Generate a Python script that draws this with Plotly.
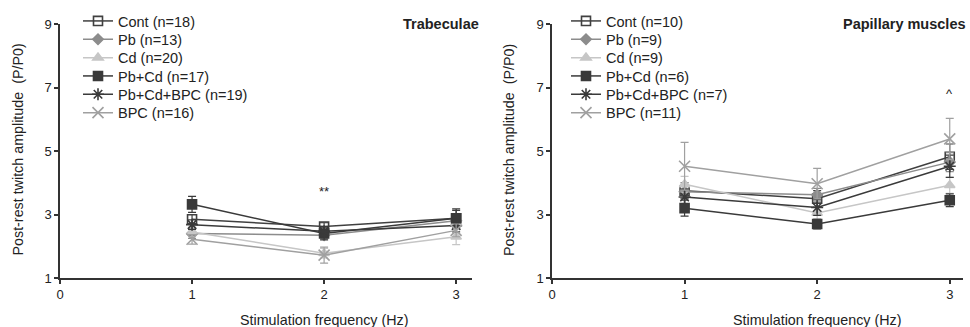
import plotly.graph_objects as go

freq = [1, 2, 3]
names_left = ["Cont (n=18)", "Pb (n=13)", "Cd (n=20)", "Pb+Cd (n=17)", "Pb+Cd+BPC (n=19)", "BPC (n=16)"]
names_right = ["Cont (n=10)", "Pb (n=9)", "Cd (n=9)", "Pb+Cd (n=6)", "Pb+Cd+BPC (n=7)", "BPC (n=11)"]

# Trabeculae
trab_vals = [
    [2.85, 2.62, 2.88],
    [2.40, 2.35, 2.80],
    [2.45, 1.78, 2.30],
    [3.32, 2.40, 2.88],
    [2.68, 2.47, 2.65],
    [2.22, 1.72, 2.50],
]
trab_err = [
    [0.15, 0.12, 0.25],
    [0.15, 0.12, 0.20],
    [0.15, 0.15, 0.25],
    [0.25, 0.20, 0.30],
    [0.15, 0.15, 0.20],
    [0.15, 0.25, 0.20],
]
# Papillary muscles
pap_vals = [
    [3.75, 3.50, 4.82],
    [3.72, 3.62, 4.65],
    [3.95, 3.05, 3.92],
    [3.20, 2.70, 3.45],
    [3.55, 3.22, 4.52],
    [4.52, 3.97, 5.38],
]
pap_err = [
    [0.25, 0.25, 0.40],
    [0.20, 0.20, 0.30],
    [0.25, 0.20, 0.25],
    [0.25, 0.15, 0.20],
    [0.25, 0.25, 0.35],
    [0.75, 0.48, 0.65],
]

colors = ["#404040", "#8c8c8c", "#c6c6c6", "#3a3a3a", "#3a3a3a", "#a0a0a0"]
symbols = ["square-open", "diamond", "triangle-up", "square", "asterisk-open", "x-thin-open"]
sizes = [9, 8, 9, 9, 10, 11]

FONT = "Liberation Sans, Arial, sans-serif"
W, H = 970, 327
ml, mr, mt, mb = 60, 7, 24, 49
pw = W - ml - mr
ph = H - mt - mb

# legend item centres (pixels from top)
leg_rows = [21, 39.3, 57.7, 76, 94.3, 112.7]


def py_to_paper(py):
    return 1 - (py - mt) / ph


def px_to_paper(px):
    return (px - ml) / pw


fig = go.Figure()
legends = {}
for panel, (vals, errs, names, xa, ya, lx) in enumerate([
    (trab_vals, trab_err, names_left, "x", "y", 78),
    (pap_vals, pap_err, names_right, "x2", "y2", 566),
]):
    for i in range(6):
        lid = "legend" if (panel == 0 and i == 0) else f"legend{panel * 6 + i + 1}"
        fig.add_trace(go.Scatter(
            x=freq, y=vals[i], name=names[i], mode="lines+markers",
            line=dict(color=colors[i], width=1.5),
            marker=dict(symbol=symbols[i], size=sizes[i], color=colors[i],
                        line=dict(color=colors[i], width=1.6)),
            error_y=dict(type="data", array=errs[i], color=colors[i], thickness=1.2, width=4),
            xaxis=xa, yaxis=ya, legend=lid,
        ))
        legends[lid] = dict(x=px_to_paper(lx), y=py_to_paper(leg_rows[i]), xanchor="left",
                            yanchor="middle", bgcolor="rgba(0,0,0,0)",
                            font=dict(family=FONT, size=14.5, color="#222222"),
                            itemwidth=30)

axis_common = dict(showgrid=False, zeroline=False, showline=True, linecolor="#333333", linewidth=1.5,
                   ticks="outside", ticklen=4, tickcolor="#333333", tickwidth=1.5,
                   tickfont=dict(family=FONT, size=13, color="#222222"))

ytitle = "Post-rest twitch amplitude  (P/P0)"
xtitle = "Stimulation frequency (Hz)"

fig.update_layout(
    width=W, height=H,
    margin=dict(l=ml, r=mr, t=mt, b=mb, autoexpand=False),
    plot_bgcolor="white", paper_bgcolor="white",
    font=dict(family=FONT, size=14, color="#222222"),
    xaxis=dict(domain=[0, 412 / pw], range=[0, 3.12], tickvals=[0, 1, 2, 3], **axis_common),
    yaxis=dict(range=[1, 9], tickvals=[1, 3, 5, 7, 9], anchor="x", **axis_common),
    xaxis2=dict(domain=[px_to_paper(552), 1.0], range=[0, 3.1], tickvals=[0, 1, 2, 3],
                anchor="y2", **axis_common),
    yaxis2=dict(range=[1, 9], tickvals=[1, 3, 5, 7, 9], anchor="x2", **axis_common),
    showlegend=True,
    annotations=[
        dict(text="<b>Trabeculae</b>", x=px_to_paper(481), y=py_to_paper(24), xref="paper", yref="paper",
             xanchor="right", yanchor="middle", showarrow=False, font=dict(size=14.5)),
        dict(text="<b>Papillary muscles</b>", x=px_to_paper(968), y=py_to_paper(24), xref="paper",
             yref="paper", xanchor="right", yanchor="middle", showarrow=False, font=dict(size=14.5)),
        dict(text="**", x=2, y=3.72, xref="x", yref="y", showarrow=False, font=dict(size=13)),
        dict(text="^", x=3, y=6.8, xref="x2", yref="y2", showarrow=False, font=dict(size=13)),
        dict(text=xtitle, x=2, y=py_to_paper(320), xref="x", yref="paper",
             yanchor="middle", showarrow=False, font=dict(size=14.3)),
        dict(text=xtitle, x=2, y=py_to_paper(320), xref="x2", yref="paper",
             yanchor="middle", showarrow=False, font=dict(size=14.3)),
        dict(text=ytitle, x=px_to_paper(17.5), y=py_to_paper(150), xref="paper", yref="paper",
             textangle=-90, xanchor="center", yanchor="middle", showarrow=False, font=dict(size=14.3)),
        dict(text=ytitle, x=px_to_paper(509), y=py_to_paper(150), xref="paper", yref="paper",
             textangle=-90, xanchor="center", yanchor="middle", showarrow=False, font=dict(size=14.3)),
    ],
    **legends,
)

fig.write_html("out.html", config={"displayModeBar": False},
               post_script="document.body.style.margin='0';")
